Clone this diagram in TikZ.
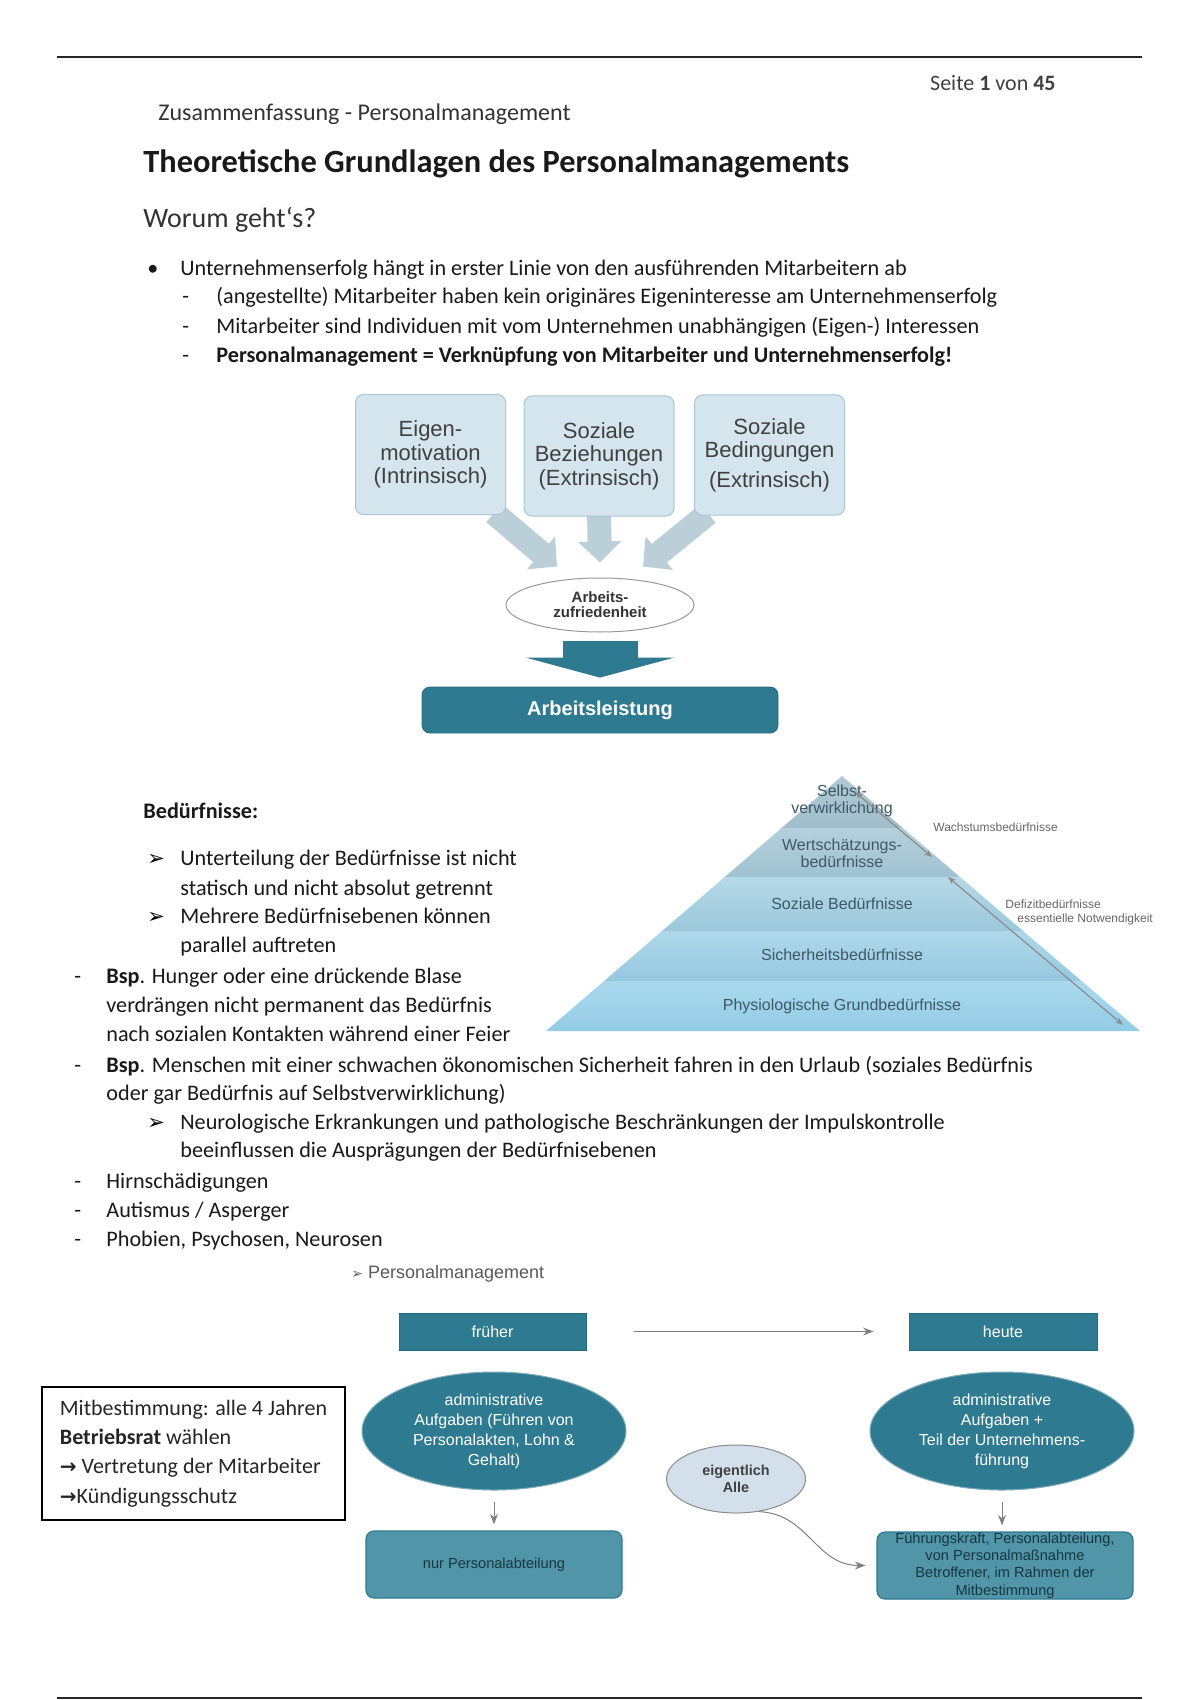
\documentclass[tikz,border=0pt]{standalone}
\usepackage{fontspec}
\setmainfont{Carlito}
\newfontfamily\arialf{Liberation Sans}
\newfontfamily\dejavu{DejaVu Sans}
\usetikzlibrary{arrows.meta,positioning,shapes.geometric,backgrounds}
\definecolor{tealdark}{HTML}{2E7A90}
\definecolor{tealmid}{HTML}{5195A9}
\definecolor{boxblue}{HTML}{D5E5ED}
\definecolor{boxline}{HTML}{A9C6D3}
\definecolor{arrgrey}{HTML}{BACFD8}
\definecolor{allefill}{HTML}{D3DFEA}
\definecolor{pyrtext}{HTML}{3E5867}

\begin{document}
\begin{tikzpicture}[
   x=0.5pt, y=-0.5pt, >=Stealth,
   bodytext/.style={anchor=base west,inner sep=0pt,font=\fontsize{11.1}{13}\selectfont,text=black!90},
   listsym/.style={anchor=base west,inner sep=0pt,font=\dejavu\fontsize{10.5}{12}\selectfont},
   factor/.style={draw=boxline,fill=boxblue,rounded corners=4pt,line width=0.5pt,
                  minimum width=75pt,minimum height=60pt,align=center,
                  font=\arialf\fontsize{11}{11.75}\selectfont,text=black!75},
   bigarrow/.style={line width=12pt,draw=arrgrey,-{Triangle[width=21pt,length=10.5pt]}},
   tealbox/.style={fill=tealdark,draw=tealdark!85!black,line width=0.4pt,text=white,align=center,inner sep=0pt},
   tealell/.style={ellipse,fill=tealdark,draw=tealdark!60!white,line width=0.5pt,text=white,
                   align=center,inner sep=0pt,minimum width=132pt,minimum height=59pt,
                   font=\arialf\fontsize{8}{10}\selectfont},
   lowbox/.style={rounded corners=4pt,fill=tealmid,draw=tealdark,line width=0.6pt,
                  minimum width=128pt,minimum height=33.5pt,align=center,inner sep=0pt,
                  font=\arialf\fontsize{7.3}{8.7}\selectfont,text=tealdark!45!black},
   pyrlabel/.style={align=center,inner sep=0pt,font=\arialf\fontsize{8}{8.5}\selectfont,text=pyrtext},
   sidelabel/.style={anchor=west,inner sep=0pt,font=\arialf\fontsize{6}{7}\selectfont,text=black!60},
   thinarr/.style={->,line width=0.5pt,draw=black!50},
   ]
\useasboundingbox (0,0) rectangle (1200,1700);
%% page rules
\draw[line width=1pt,black!85] (57,57) -- (1142,57);
\draw[line width=1pt,black!85] (57,1698) -- (1142,1698);
%% header
\node[anchor=base east,inner sep=0pt,font=\fontsize{11}{13}\selectfont,text=black!75] (seite) at (1056,91) {Seite \textbf{1} von \textbf{45}};
\node[bodytext,font=\fontsize{12}{14}\selectfont,text=black!80] (zus) at (158,121) {Zusammenfassung - Personalmanagement};
\node[bodytext,font=\fontsize{16.2}{19}\selectfont\bfseries] (title) at (143,173) {Theoretische Grundlagen des Personalmanagements};
\node[bodytext,font=\fontsize{14}{17}\selectfont,text=black!80] (worum) at (143,228) {Worum geht‘s?};
%% intro list
\node[bodytext] (bul) at (147,276) {•};
\node[bodytext] (l1) at (180,276) {Unternehmenserfolg hängt in erster Linie von den ausführenden Mitarbeitern ab};
\foreach \y in {304,334,363} \node[bodytext] (dash\y) at (182,\y) {-};
\node[bodytext] (l2) at (216,304) {(angestellte) Mitarbeiter haben kein originäres Eigeninteresse am Unternehmenserfolg};
\node[bodytext] (l3) at (216,334) {Mitarbeiter sind Individuen mit vom Unternehmen unabhängigen (Eigen-) Interessen};
\node[bodytext,font=\fontsize{11.1}{13}\selectfont\bfseries] (l4) at (216,363) {Personalmanagement = Verknüpfung von Mitarbeiter und Unternehmenserfolg!};
%% Diagram 1: Arbeitszufriedenheit
\node[factor] (b1) at (430.5,454.5) {Eigen-\\motivation\\(Intrinsisch)};
\node[factor] (b2) at (599,456) {Soziale\\Beziehungen\\(Extrinsisch)};
\node[factor] (b3) at (769.5,455) {Soziale\\Bedingungen\\[3pt](Extrinsisch)};
\node[ellipse,draw=black!40,fill=white,line width=0.5pt,minimum width=94pt,minimum height=27pt,inner sep=0pt,
      align=center,font=\arialf\bfseries\fontsize{7.5}{7.5}\selectfont,text=black!80] (sat) at (600,605) {Arbeits-\\zufriedenheit};
\node[tealbox,rounded corners=4pt,minimum width=178pt,minimum height=23pt,
      font=\arialf\bfseries\fontsize{10}{12}\selectfont] (leist) at (600,710) {Arbeitsleistung};
\begin{scope}[on background layer]
\fill[white] (0,0) rectangle (1200,1700);
\draw[bigarrow] ([shift={(-12,-2)}]b1.south east) -- ([shift={(-43,-11)}]sat.north);
\draw[bigarrow] ([shift={(0,-2)}]b2.south) -- ([shift={(0,-15)}]sat.north);
\draw[bigarrow] ([shift={(14,-2)}]b3.south west) -- ([shift={(43,-11)}]sat.north);
\end{scope}
\draw[line width=37.5pt,draw=tealdark,-{Triangle[width=74pt,length=10pt]}] ([shift={(0,8)}]sat.south) -- ([shift={(0,-9)}]leist.north);
%% Beduerfnisse text
\node[bodytext,font=\fontsize{11.1}{13}\selectfont\bfseries] (bed) at (143,818) {Bedürfnisse:};
\node[listsym] (m1) at (147,865) {➢};
\node[bodytext] (t1a) at (180,865) {Unterteilung der Bedürfnisse ist nicht};
\node[bodytext] (t1b) at (180,895) {statisch und nicht absolut getrennt};
\node[listsym] (m2) at (147,923) {➢};
\node[bodytext] (t2a) at (180,923) {Mehrere Bedürfnisebenen können};
\node[bodytext] (t2b) at (180,952) {parallel auftreten};
\foreach \y in {983,1072,1188,1217,1246} \node[bodytext] (dd\y) at (74,\y) {-};
\node[bodytext] (t3a) at (106,983) {\textbf{Bsp}. Hunger oder eine drückende Blase};
\node[bodytext] (t3b) at (106,1012) {verdrängen nicht permanent das Bedürfnis};
\node[bodytext] (t3c) at (106,1041) {nach sozialen Kontakten während einer Feier};
\node[bodytext] (t4a) at (106,1072) {\textbf{Bsp}. Menschen mit einer schwachen ökonomischen Sicherheit fahren in den Urlaub (soziales Bedürfnis};
\node[bodytext] (t4b) at (106,1100) {oder gar Bedürfnis auf Selbstverwirklichung)};
\node[listsym] (m3) at (147,1129) {➢};
\node[bodytext] (t5a) at (180,1129) {Neurologische Erkrankungen und pathologische Beschränkungen der Impulskontrolle};
\node[bodytext] (t5b) at (180,1157) {beeinflussen die Ausprägungen der Bedürfnisebenen};
\node[bodytext] (t6) at (106,1188) {Hirnschädigungen};
\node[bodytext] (t7) at (106,1217) {Autismus / Asperger};
\node[bodytext] (t8) at (106,1246) {Phobien, Psychosen, Neurosen};
%% Pyramid
\coordinate (apex) at (842,776);
\coordinate (pl) at (546,1031);
\coordinate (pr) at (1140,1031);
\begin{scope}
\clip (apex) -- (pl) -- (pr) -- cycle;
\shade[top color={rgb,255:red,178;green,202;blue,212},bottom color={rgb,255:red,160;green,190;blue,203}] (540,770) rectangle (1145,828);
\shade[top color={rgb,255:red,180;green,208;blue,220},bottom color={rgb,255:red,160;green,194;blue,209}] (540,828) rectangle (1145,877);
\shade[top color={rgb,255:red,182;green,217;blue,232},bottom color={rgb,255:red,155;green,200;blue,219}] (540,877) rectangle (1145,931);
\shade[top color={rgb,255:red,174;green,216;blue,234},bottom color={rgb,255:red,150;green,200;blue,224}] (540,931) rectangle (1145,981);
\shade[top color={rgb,255:red,170;green,217;blue,237},bottom color={rgb,255:red,145;green,203;blue,229}] (540,981) rectangle (1145,1035);
\end{scope}
\node[pyrlabel] (p1) at (842,801) {Selbst-\\verwirklichung};
\node[pyrlabel] (p2) at (842,853) {Wertschätzungs-\\bedürfnisse};
\node[pyrlabel] (p3) at (842,904) {Soziale Bedürfnisse};
\node[pyrlabel] (p4) at (842,955) {Sicherheitsbedürfnisse};
\node[pyrlabel] (p5) at (842,1006) {Physiologische Grundbedürfnisse};
\coordinate (w1) at (855,792);
\coordinate (w2) at (932,857);
\coordinate (d1) at (948,877);
\coordinate (d2) at (1123,1025);
\draw[<->,line width=0.6pt,draw=black!45,>={Stealth[length=4pt,width=3pt]}] (w1) -- (w2);
\draw[<->,line width=0.6pt,draw=black!45,>={Stealth[length=4pt,width=3pt]}] (d1) -- (d2);
\node[sidelabel] (wlab) at (933,827) {Wachstumsbedürfnisse};
\node[sidelabel] (dlab1) at (1005,904) {Defizitbedürfnisse};
\node[sidelabel] (dlab2) at (1017,919) {essentielle Notwendigkeit};
%% Diagram 2: Personalmanagement
\node[anchor=base west,inner sep=0pt,font=\arialf\fontsize{9}{11}\selectfont,text=black!65] (pm) at (351,1278) {{\dejavu\fontsize{7}{9}\selectfont ➢} Personalmanagement};
\node[tealbox,minimum width=93.5pt,minimum height=18.5pt,font=\arialf\fontsize{8}{10}\selectfont] (frueher) at (492.5,1331.5) {früher};
\node[tealbox,minimum width=94pt,minimum height=18.5pt,font=\arialf\fontsize{8}{10}\selectfont] (heute) at (1003,1331.5) {heute};
\node[tealell] (adm1) at (494,1431) {administrative\\Aufgaben (Führen von\\Personalakten, Lohn \&\\Gehalt)};
\node[tealell] (adm2) at (1002,1431) {administrative\\Aufgaben +\\Teil der Unternehmens-\\führung};
\node[lowbox] (nurpa) at (494,1564.5) {nur Personalabteilung};
\node[lowbox] (fkbox) at (1005,1565.5) {Führungskraft, Personalabteilung,\\von Personalmaßnahme\\Betroffener, im Rahmen der\\Mitbestimmung};
\node[ellipse,fill=allefill,draw=black!45,line width=0.5pt,minimum width=69.5pt,minimum height=34pt,inner sep=0pt,
      align=center,font=\arialf\bfseries\fontsize{7.2}{8.5}\selectfont,text=black!75] (alle) at (736,1479) {eigentlich\\Alle};
\draw[thinarr] ([xshift=24pt]frueher.east) -- ([xshift=-17.5pt]heute.west);
\draw[thinarr] ([yshift=-5.5pt]adm1.south) -- ([yshift=3pt]nurpa.north);
\draw[thinarr] ([yshift=-5.5pt]adm2.south) -- ([yshift=3pt]adm2.south |- fkbox.north);
\draw[thinarr] (alle.-55) .. controls +(50,2) and +(-50,0) .. ([xshift=-5.5pt]fkbox.west);
%% Mitbestimmung box
\node[draw=black,line width=1pt,anchor=north west,minimum width=151.5pt,minimum height=66.5pt,
      align=left,inner sep=0pt,font=\fontsize{11}{14.65}\selectfont,text=black!85] (mitb) at (41,1386)
      {Mitbestimmung: alle 4 Jahren\\\textbf{Betriebsrat} wählen\\{\dejavu\bfseries\fontsize{10}{12}\selectfont →} Vertretung der Mitarbeiter\\{\dejavu\bfseries\fontsize{10}{12}\selectfont →}Kündigungsschutz};
\end{tikzpicture}
\end{document}
